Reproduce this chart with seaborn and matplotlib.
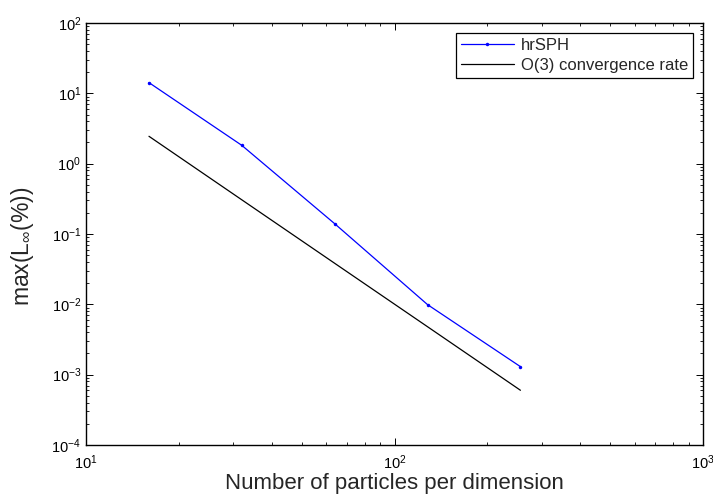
import matplotlib
matplotlib.use("Agg")
import matplotlib.pyplot as plt
import seaborn as sns
import pandas as pd
import numpy as np
from matplotlib.ticker import LogLocator, NullFormatter

# Data
particles = [16, 32, 64, 128, 256]
hrsph_err = [14.2, 1.82, 0.14, 0.0099, 0.0013]
o3_err = [2.45, 0.306, 0.0383, 0.0048, 0.0006]

sns.set_style("ticks")
plt.rcParams['font.family'] = ['Liberation Sans', 'DejaVu Sans']
plt.rcParams['mathtext.fontset'] = 'custom'
plt.rcParams['mathtext.rm'] = 'Liberation Sans'
plt.rcParams['mathtext.it'] = 'Liberation Sans:italic'
plt.rcParams['mathtext.default'] = 'regular'

df = pd.DataFrame({
    "x": particles * 2,
    "y": hrsph_err + o3_err,
    "series": ["hrSPH"] * len(particles) + ["O(3) convergence rate"] * len(particles),
})

fig = plt.figure(figsize=(7.13, 4.96), dpi=100)
ax = fig.add_axes([86/713, 1-445/496, (703-86)/713, (445-23)/496])

sns.lineplot(data=df[df.series == "hrSPH"], x="x", y="y", ax=ax, color="#0000ff",
             lw=0.9, marker="o", markersize=2.5, markeredgewidth=0, label="hrSPH")
sns.lineplot(data=df[df.series != "hrSPH"], x="x", y="y", ax=ax, color="black",
             lw=0.9, label="O(3) convergence rate")

ax.set_xscale("log")
ax.set_yscale("log")
ax.set_xlim(10, 1000)
ax.set_ylim(1e-4, 1e2)
ax.yaxis.set_major_locator(LogLocator(base=10, numticks=20))
ax.yaxis.set_minor_locator(LogLocator(base=10, subs=np.arange(2, 10), numticks=20))
ax.yaxis.set_minor_formatter(NullFormatter())
ax.xaxis.set_minor_formatter(NullFormatter())

for s in ax.spines.values():
    s.set_visible(True)
    s.set_linewidth(1.0)
    s.set_color("black")
ax.tick_params(which="both", direction="in", top=True, right=True, colors="black",
               labelsize=10.5)
ax.tick_params(which="major", length=5, width=0.7)
ax.tick_params(which="minor", length=2.5, width=0.6)
ax.tick_params(axis="x", pad=6)

ax.set_xlabel("Number of particles per dimension", fontsize=16, labelpad=1)
ax.set_ylabel(r"max(L$_{\infty}$(%))", fontsize=16.5, labelpad=4)
ax.yaxis.set_label_coords(-0.081, 0.47)

leg = ax.legend(loc="upper right", fontsize=12, frameon=True, fancybox=False,
                edgecolor="black", framealpha=1, handlelength=3.2,
                borderaxespad=0.6, borderpad=0.3, labelspacing=0.3, handletextpad=0.4)
leg.get_frame().set_linewidth(0.9)

fig.savefig("out.png", dpi=100)
